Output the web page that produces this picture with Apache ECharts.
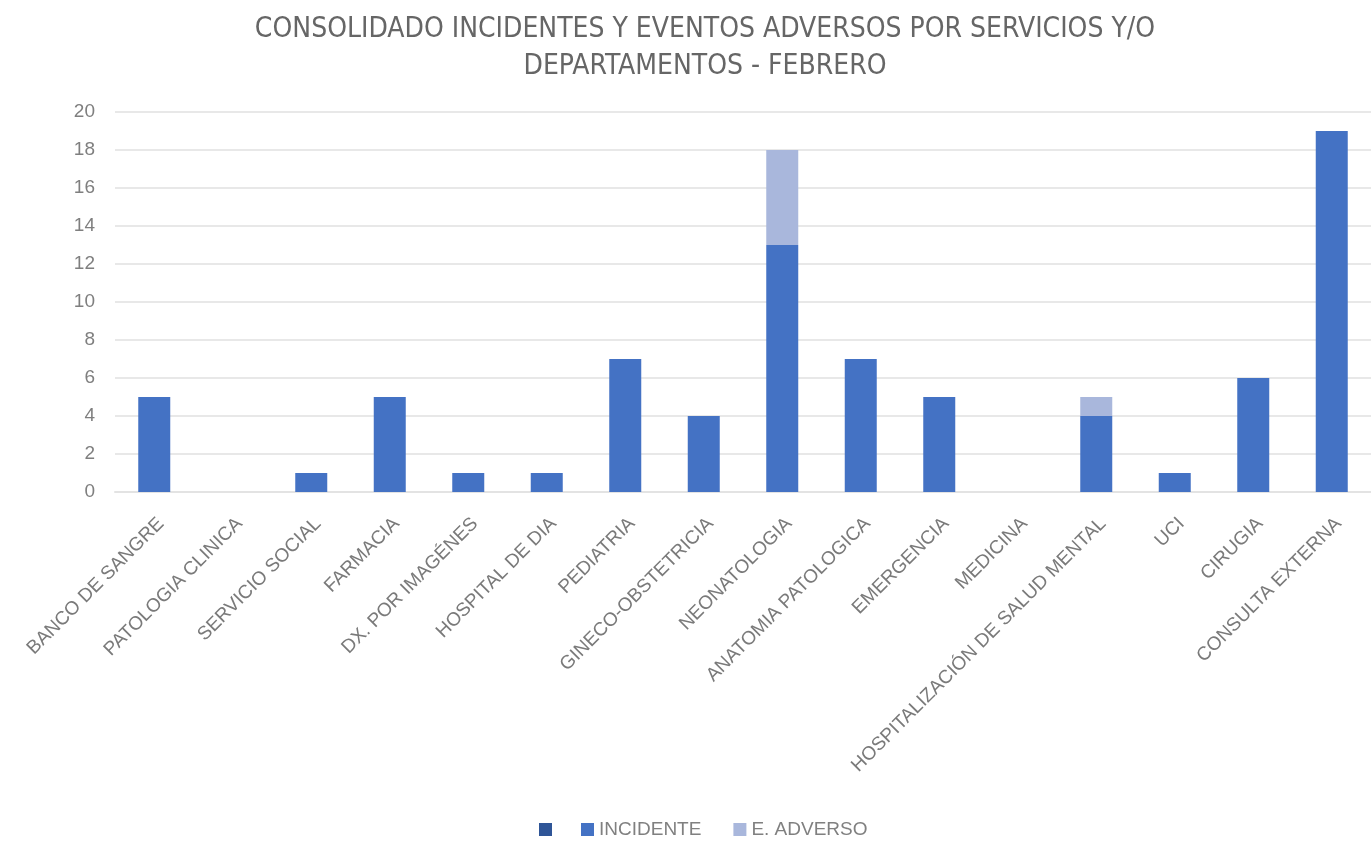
<!DOCTYPE html>
<html>
<head>
<meta charset="utf-8">
<script src="https://cdn.jsdelivr.net/npm/echarts@6/dist/echarts.min.js"></script>
<style>
html,body{margin:0;padding:0;background:#fff;}
#chart{width:1371px;height:843px;}
</style>
</head>
<body>
<div id="chart"></div>
<script>
const titleText = 'CONSOLIDADO INCIDENTES Y EVENTOS ADVERSOS POR SERVICIOS Y/O\nDEPARTAMENTOS - FEBRERO';
const categories = ['BANCO DE SANGRE','PATOLOGIA CLINICA','SERVICIO SOCIAL','FARMACIA','DX. POR IMAGÉNES','HOSPITAL DE DIA','PEDIATRIA','GINECO-OBSTETRICIA','NEONATOLOGIA','ANATOMIA PATOLOGICA','EMERGENCIA','MEDICINA','HOSPITALIZACIÓN DE SALUD MENTAL','UCI','CIRUGIA','CONSULTA EXTERNA'];
const seriesBlankName = ' ';
const blankValues = [0,0,0,0,0,0,0,0,0,0,0,0,0,0,0,0];
const incidenteName = 'INCIDENTE';
const incidenteValues = [5,0,1,5,1,1,7,4,13,7,5,0,4,1,6,19];
const adversoName = 'E. ADVERSO';
const adversoValues = [0,0,0,0,0,0,0,0,5,0,0,0,1,0,0,0];
const yTicks = {min:0, max:20, interval:2};

const FONT = "'Liberation Sans', Arial, sans-serif";
const NARROW = "'Liberation Sans Narrow', 'DejaVu Sans Condensed', 'Liberation Sans', sans-serif";
const chart = echarts.init(document.getElementById('chart'), null, {renderer:'canvas'});
chart.setOption({
  animation:false,
  backgroundColor:'#ffffff',
  title:{
    text:titleText, left:700, top:6, textAlign:'center',
    textStyle:{fontFamily:NARROW, fontSize:28, fontWeight:'normal', color:'#666666', lineHeight:37, align:'center'}
  },
  legend:[
    {data:[seriesBlankName], left:534, top:815, itemWidth:13, itemHeight:13, itemGap:29, icon:'rect',
     textStyle:{fontFamily:FONT, fontSize:19, color:'#808080'}},
    {data:[incidenteName, adversoName], left:576, top:815, itemWidth:13, itemHeight:13, itemGap:32, icon:'rect',
     textStyle:{fontFamily:FONT, fontSize:19, color:'#808080'}}
  ],
  grid:{left:115, top:112, width:1256, height:380, containLabel:false},
  xAxis:{
    type:'category', data:categories,
    axisLine:{show:true, lineStyle:{color:'#e3e3e3', width:2}},
    axisTick:{show:false},
    axisLabel:{interval:0, rotate:45, align:'right', verticalAlign:'top', margin:22,
      fontFamily:FONT, fontSize:19, color:'#7a7a7a'}
  },
  yAxis:{
    type:'value', min:yTicks.min, max:yTicks.max, interval:yTicks.interval,
    axisLine:{show:false}, axisTick:{show:false},
    splitLine:{lineStyle:{color:'#e8e8e8', width:2}},
    axisLabel:{margin:20, fontFamily:FONT, fontSize:19, color:'#7f7f7f'}
  },
  series:[
    {name:seriesBlankName, type:'bar', stack:'t', data:blankValues, barWidth:32, itemStyle:{color:'#2F5597'}},
    {name:incidenteName, type:'bar', stack:'t', data:incidenteValues, barWidth:32, itemStyle:{color:'#4472C4'}},
    {name:adversoName, type:'bar', stack:'t', data:adversoValues, barWidth:32, itemStyle:{color:'#A9B7DC'}}
  ]
});
</script>
</body>
</html>
